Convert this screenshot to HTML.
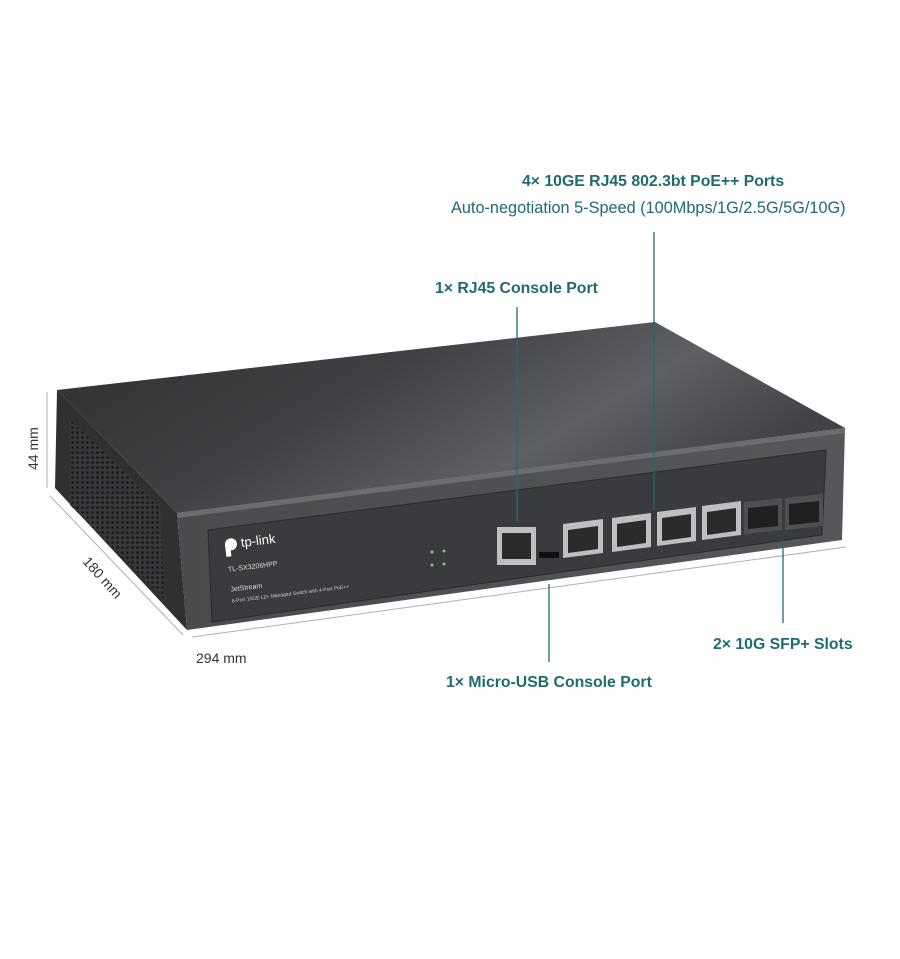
<!DOCTYPE html>
<html><head><meta charset="utf-8"><style>
html,body{margin:0;padding:0;background:#fff;}
svg{display:block;}
text{font-family:"Liberation Sans",sans-serif;}
</style></head><body>
<svg width="900" height="959" viewBox="0 0 900 959" xmlns="http://www.w3.org/2000/svg">
<defs>
<linearGradient id="top" x1="0" y1="0" x2="1" y2="0.4">
<stop offset="0" stop-color="#2e2f31"/><stop offset="0.45" stop-color="#404144"/><stop offset="0.75" stop-color="#5e6064"/><stop offset="1" stop-color="#424346"/>
</linearGradient>
<linearGradient id="front" x1="0" y1="0" x2="1" y2="0">
<stop offset="0" stop-color="#4a4b4e"/><stop offset="1" stop-color="#55575a"/>
</linearGradient>
<pattern id="vent" width="5" height="5" patternUnits="userSpaceOnUse"><rect width="5" height="5" fill="#36373a"/><circle cx="2.5" cy="2.5" r="1.3" fill="#151617"/></pattern>
</defs>
<polygon points="57,390 655,322 845,428 177,513" fill="url(#top)"/>
<polygon points="57,390 177,513 187,630 55,488" fill="#2f3032"/>
<polygon points="70,420 160,505 165,600 70,505" fill="url(#vent)"/>
<polygon points="177,513 845,428 842,540 187,630" fill="url(#front)"/>
<polygon points="177,513 845,428 845,433 178,518" fill="#6a6c70"/>
<polygon points="208,530 826,450 822,535 212,622" fill="#3a3b3e" stroke="#2a2b2d" stroke-width="1"/>
<g transform="translate(225,545) rotate(-7)">
<circle cx="6" cy="0" r="6" fill="#fff"/><rect x="0" y="0" width="5" height="12" fill="#fff"/>
<text x="16" y="4" font-size="13" fill="#fff">tp-link</text>
<text x="0" y="27" font-size="7" fill="#ddd">TL-SX3206HPP</text>
<text x="0" y="47" font-size="7" fill="#ddd">JetStream</text>
<text x="0" y="58" font-size="5" fill="#ccc">6-Port 10GE L2+ Managed Switch with 4-Port PoE++</text>
</g>
<g fill="#8fb39a"><circle cx="432" cy="552" r="1.5"/><circle cx="444" cy="551" r="1.5"/><circle cx="432" cy="565" r="1.5"/><circle cx="444" cy="564" r="1.5"/></g>
<g fill="#bdbfc2">
<rect x="497" y="527" width="39" height="38"/>
<polygon points="563,524 603,519 603,553 563,558"/>
<polygon points="612,518 651,513 651,547 612,552"/>
<polygon points="657,512 696,507 696,541 657,546"/>
<polygon points="702,506 741,501 741,535 702,540"/>
</g>
<g fill="#2a2b2d">
<rect x="502" y="533" width="29" height="26"/>
<polygon points="568,530 598,526 598,549 568,553"/>
<polygon points="617,524 646,520 646,543 617,547"/>
<polygon points="662,518 691,514 691,537 662,541"/>
<polygon points="707,512 736,508 736,531 707,535"/>
<polygon points="744,502 782,498 782,530 744,534" fill="#4d4f52"/>
<polygon points="785,498 823,494 823,526 785,530" fill="#4d4f52"/>
<polygon points="748,508 778,505 778,526 748,529" fill="#1f2022"/>
<polygon points="789,504 819,501 819,522 789,525" fill="#1f2022"/>
<rect x="539" y="552" width="20" height="6" fill="#111"/>
</g>
<g stroke="#b0b0b0" stroke-width="1" fill="none">
<line x1="47" y1="392" x2="47" y2="488"/>
<line x1="50" y1="496" x2="183" y2="635"/>
<line x1="192" y1="637" x2="846" y2="547"/>
</g>
<g font-size="14" fill="#333">
<text x="0" y="0" transform="translate(38,470) rotate(-90)">44 mm</text>
<text x="0" y="0" transform="translate(82,562) rotate(48)">180 mm</text>
<text x="196" y="663">294 mm</text>
</g>
<g stroke="#1f6b70" stroke-width="1.3">
<line x1="517" y1="307" x2="517" y2="522"/>
<line x1="654" y1="232" x2="654" y2="510"/>
<line x1="549" y1="584" x2="549" y2="662"/>
<line x1="783" y1="540" x2="783" y2="623"/>
</g>
<g fill="#1f6b70" font-size="15.8">
<text x="522" y="186" font-weight="bold">4× 10GE RJ45 802.3bt PoE++ Ports</text>
<text x="451" y="213" font-size="16.3">Auto-negotiation 5-Speed (100Mbps/1G/2.5G/5G/10G)</text>
<text x="435" y="293" font-weight="bold">1× RJ45 Console Port</text>
<text x="446" y="687" font-weight="bold">1× Micro-USB Console Port</text>
<text x="713" y="649" font-weight="bold">2× 10G SFP+ Slots</text>
</g>
</svg>
</body></html>
